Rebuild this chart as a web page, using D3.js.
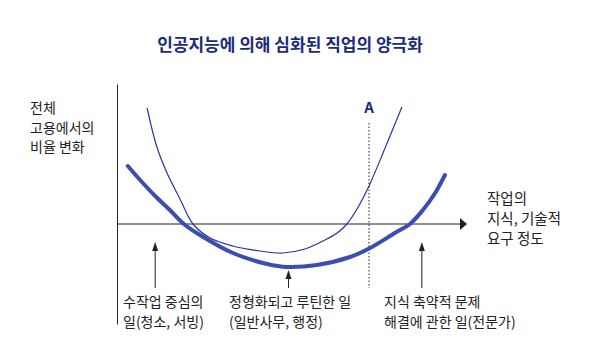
<!DOCTYPE html>
<html><head><meta charset="utf-8">
<script src="https://cdn.jsdelivr.net/npm/d3@7"></script>
<style>body{margin:0;background:#fff}svg{display:block}text{font-family:"Noto Sans CJK KR","Noto Sans",sans-serif}</style>
</head><body>
<script>
const title = "인공지능에 의해 심화된 직업의 양극화";
const yLabel = ["전체", "고용에서의", "비율 변화"];
const xLabel = ["작업의", "지식, 기술적", "요구 정도"];
// [knowledge level, change in share]
const currentShare = [[3.1,29],[6.6,22],[10.9,14],[15.1,7],[19.1,0],[23.7,-5.5],[33.1,-14.5],[42.9,-20],[48.6,-21.5],[57.1,-20.5],[66.6,-16.5],[72.3,-12],[79.4,-4.5],[83.7,0],[87.4,7],[90.9,15.5],[93.7,24.5]];
const aiShare = [[8.6,58],[11.4,38.5],[14.3,25.5],[18,12.5],[21.7,0],[26.6,-7],[33.1,-11],[40.9,-13.5],[47.4,-14.5],[53.7,-12.5],[59.4,-8],[62.9,-4.5],[65.7,0],[68.9,8.5],[72,19],[76.6,38],[81.4,58.5]];
const markerA = {x: 72, label: "A"};
const jobGroups = [
  {x: 10.9, y: -8, lines: ["수작업 중심의", "일(청소, 서빙)"]},
  {x: 49, y: -22, lines: ["정형화되고 루틴한 일", "(일반사무, 행정)"]},
  {x: 87.1, y: -8, lines: ["지식 축약적 문제", "해결에 관한 일(전문가)"]}
];

const W = 606, H = 357;
const svg = d3.select("body").append("svg").attr("width", W).attr("height", H);
const x = d3.scaleLinear().domain([0, 100]).range([117, 467]);
const y = d3.scaleLinear().domain([-50, 70]).range([324, 84]);
const ink = "#222";

svg.append("text").attr("x", 290).attr("y", 51).attr("text-anchor", "middle")
  .attr("font-size", 17).attr("font-weight", 600).attr("fill", "#1b2b7c").text(title);

// axes
svg.append("g").attr("transform", `translate(0,${y(0)})`)
  .call(d3.axisBottom(x).tickValues([]).tickSizeOuter(0))
  .call(g => g.select(".domain").attr("stroke", ink).attr("stroke-width", 1).attr("d", `M${x(0)},0H${x(98)}`));
svg.append("path").attr("d", `M${x(100)},${y(0)}L${x(98)},${y(0)-6}L${x(98)},${y(0)+6}Z`).attr("fill", ink);
svg.append("g").attr("transform", `translate(${x(0)},0)`)
  .call(d3.axisLeft(y).tickValues([]).tickSizeOuter(0))
  .call(g => g.select(".domain").attr("stroke", ink).attr("stroke-width", 1));

// labels
yLabel.forEach((t, i) => svg.append("text").attr("font-size", 14).attr("fill", ink)
  .attr("x", 30).attr("y", 113 + i * 19.5).text(t));
xLabel.forEach((t, i) => svg.append("text").attr("font-size", 14.5).attr("fill", ink)
  .attr("x", 487).attr("y", 204 + i * 20).text(t));

// marker A
svg.append("line").attr("x1", x(markerA.x)).attr("x2", x(markerA.x)).attr("y1", 123).attr("y2", 288)
  .attr("stroke", ink).attr("stroke-width", 1).attr("stroke-dasharray", "1.5,2");
svg.append("text").attr("x", x(markerA.x)).attr("y", 113).attr("text-anchor", "middle")
  .attr("font-size", 15).attr("font-weight", 700).attr("fill", "#1b2b7c").attr("font-family", "Liberation Sans, Arial, sans-serif").text(markerA.label);

// curves
const line = d3.line().x(d => x(d[0])).y(d => y(d[1])).curve(d3.curveCatmullRom.alpha(0.5));
svg.append("path").datum(aiShare).attr("d", line).attr("fill", "none").attr("stroke", "#26379a").attr("stroke-width", 1.2);
svg.append("path").datum(currentShare).attr("d", line).attr("fill", "none").attr("stroke", "#3a4db0").attr("stroke-width", 4).attr("stroke-linecap", "round");

// job arrows + labels
jobGroups.forEach(g => {
  const cx = x(g.x), ty = y(g.y) + 2;
  svg.append("line").attr("x1", cx).attr("x2", cx).attr("y1", ty + 6).attr("y2", 288).attr("stroke", ink).attr("stroke-width", 1);
  svg.append("path").attr("d", `M${cx},${ty}L${cx-3},${ty+9}L${cx+3},${ty+9}Z`).attr("fill", ink);
});
const labelX = [123, 229, 384];
jobGroups.forEach((g, i) => {
  g.lines.forEach((s, j) => svg.append("text").attr("font-size", 14).attr("fill", ink)
    .attr("x", labelX[i]).attr("y", 307 + j * 20).text(s));
});
</script>
</body></html>
